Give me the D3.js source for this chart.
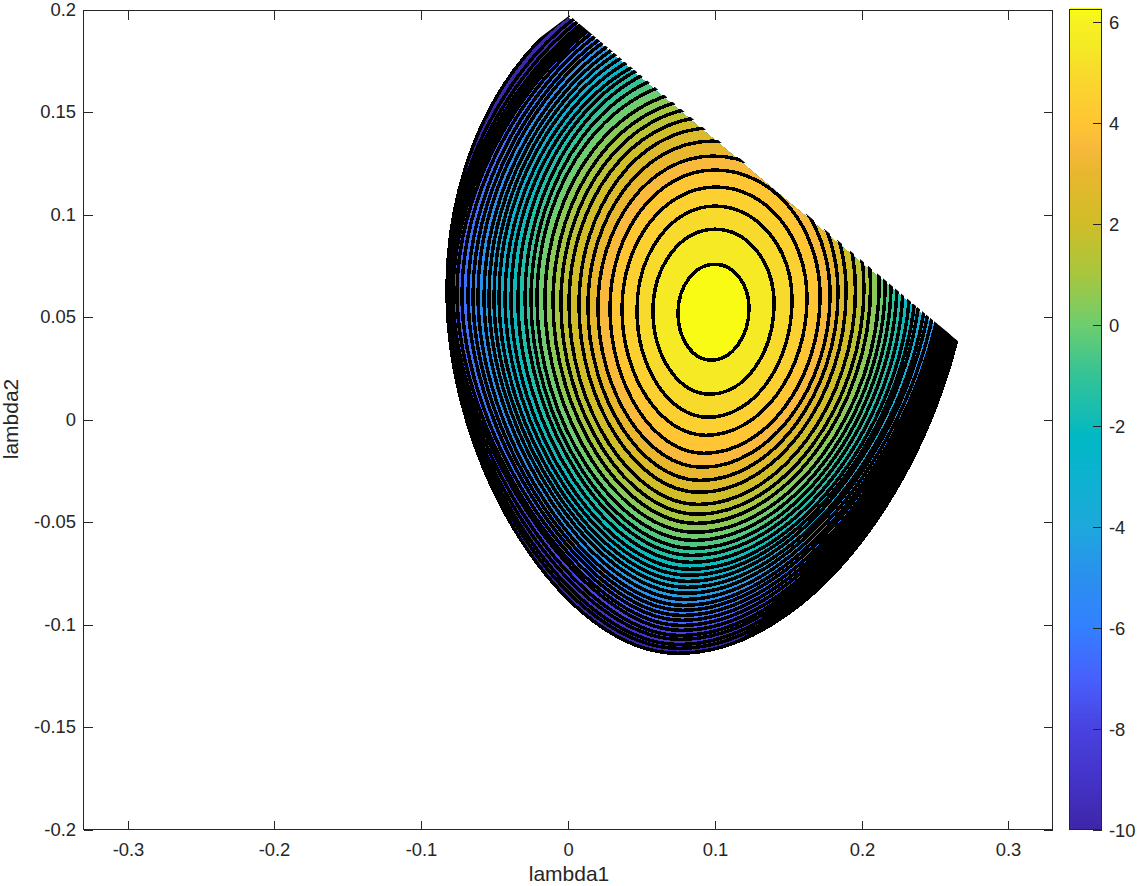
<!DOCTYPE html>
<html><head><meta charset="utf-8">
<script src="https://cdn.jsdelivr.net/npm/d3@7/dist/d3.min.js"></script>
<style>html,body{margin:0;padding:0;background:#fff}svg{display:block}text{font-family:"Liberation Sans",Arial,sans-serif;fill:#262626}</style>
</head><body><svg id="c" width="1138" height="886"></svg>
<script>
const xTicks=[-0.3,-0.2,-0.1,0,0.1,0.2,0.3];
const yTicks=[-0.2,-0.15,-0.1,-0.05,0,0.05,0.1,0.15,0.2];
const barTicks=[-10,-8,-6,-4,-2,0,2,4,6];
const levels=[6,5.5,5,4.5,4,3.5,3,2.5,2,1.5,1,0.5,0,-0.5,-1,-1.5,-2,-2.5,-3,-3.5,-4,-4.5,-5,-5.5,-6,-6.5,-7,-7.5,-8,-8.5,-9,-9.5,-10];
const leftX=[.0749,.0579,.0470,.0368,.0286,.0204,.0136,.0075,.0007,-.0048,-.0102,-.0157,-.0211,-.0252,-.0293,-.0341,-.0388,-.0429,-.0470,-.0504,-.0538,-.0572,-.0613,-.0647,-.0681,-.0722,-.0756,-.0783,-.0797,-.0811,-.0817,-.0821,-.0824];
const leftY=[.0520,.0530,.0535,.0540,.0545,.0549,.0554,.0559,.0564,.0569,.0574,.0579,.0584,.0584,.0589,.0589,.0593,.0593,.0598,.0598,.0603,.0603,.0608,.0608,.0613,.0613,.0618,.0618,.0623,.0623,.0628,.0628,.0632];
const bottomX=[.0974,.0967,.0954,.0940,.0926,.0913,.0899,.0892,.0886,.0879,.0872,.0865,.0858,.0851,.0845,.0838,.0831,.0824,.0817,.0811,.0804,.0797,.0790,.0783,.0777,.0777,.0770,.0770,.0763,.0763,.0756,.0756,.0749];
const bottomY=[.0291,.0125,.0012,-.0076,-.0164,-.0232,-.0296,-.0354,-.0413,-.0461,-.0506,-.0549,-.0589,-.0628,-.0662,-.0696,-.0730,-.0759,-.0789,-.0818,-.0847,-.0877,-.0906,-.0930,-.0955,-.0979,-.1004,-.1028,-.1053,-.1072,-.1097,-.1116,-.1140];
const rightX=[.1233,.1403,.1526,.1628,.1717,.1785,.1839,.1894,.1958,.2016,.2061,.2119,.2160,.2200,.2241,.2282,.2330,.2371,.2405,.2452,.2486,.2527,.2568,.2589,.2616,.2629,.2643,.2657,.2670,.2684,.2691,.2711,.2772];
const rightY=[.0545,.0569,.0584,.0593,.0603,.0608,.0618,.0623,.0632,.0642,.0647,.0657,.0662,.0667,.0672,.0672,.0696,.0720,.0745,.0769,.0794,.0818,.0843,.0867,.0891,.0916,.0940,.0965,.0989,.1013,.1033,.1052,.1072];
const topX=[.1001,.1001,.1001,.1008,.1001,.0988,.0981,.0974,.0967,.0960,.0954,.0947,.0940,.0933,.0926,.0920,.0913,.0906,.0899,.0892,.0886,.0879,.0872,.0865,.0851,.0845,.0838,.0831,.0817,.0804,.0790,.0770,.0749];
const topY=[.0759,.0930,.1043,.1136,.1219,.1287,.1360,.1424,.1477,.1526,.1570,.1614,.1665,.1712,.1756,.1790,.1814,.1849,.1883,.1917,.1946,.1976,.2005,.2029,.2054,.2078,.2098,.2117,.2127,.2137,.2147,.2151,.2156];
const domainEdge=[[-.1144,.1350],[-.0191,.1863],[0,.1966],[.2650,.0374],[.2943,.0198],[.2943,-.137],[-.1144,-.137]];
const mergedBlack=[[.2534,.0422],[.2446,.0227],[.2262,-.0037],[.2125,-.0183],[.1969,-.0408],[.1785,-.0554],[.1696,-.0652],[.1601,-.0750],[.1512,-.0818],[.1396,-.0882],[.1287,-.1014],[.1138,-.1087],[.0899,-.1155],[.0899,-.137],[.2943,-.137],[.2943,.0422]];
const stopValues=[-10,-9,-8,-7,-6,-5,-4,-3,-2.2,-2,-1,0,1,2,3,3.5,4,5,5.5,6,6.24];
const stopColors=["#3e26a8","#4433c8","#4842e0","#4860fc","#3380ff","#2a90ee","#1ea8dc","#0cb2cf","#00b8c4","#0cbabb","#34c396","#6ecd6e","#a8c63e","#d0bd28","#e8b72e","#f8b93c","#ffc533","#f8da2c","#f5ea24","#f6f122","#f9fb15"];
const upperLeftBend=[.47,.47,.475,.49,.515,.5523];

const svg=d3.select("#c");
const x=d3.scaleLinear().domain([-0.33,0.33]).range([83.5,1052.5]);
const y=d3.scaleLinear().domain([-0.2,0.2]).range([829.5,10]);
const bar=d3.scaleLinear().domain([-10,6.24]).range([829.5,9.5]);
const colour=d3.scaleLinear().domain(stopValues).range(stopColors).interpolate(d3.interpolateRgb);
const INK="#262626";

const defs=svg.append("defs");
const poly=d3.line().x(d=>x(d[0])).y(d=>y(d[1]));
defs.append("clipPath").attr("id","dom").append("path").attr("d",poly(domainEdge)+"Z");
defs.append("clipPath").attr("id","domS").append("path").attr("d",poly(domainEdge)+"Z").attr("transform","translate(1.5,-1.5)");

function kappaLR(i){return i<=22?0.5523-(0.5523-0.46)*(i/22):0.46+0.04*((i-22)/10);}
function kappaLL(i){return i<=27?0.5523-(0.5523-0.43)*(i/27):0.43+0.06*((i-27)/5);}
function kappaUL(i){return i<=12?0.5523:i<=27?0.5523-(0.5523-0.47)*((i-12)/15):upperLeftBend[i-27];}
const kappaUR=0.5523;
function contourPath(i){
  const L=[x(leftX[i]),y(leftY[i])],B=[x(bottomX[i]),y(bottomY[i])],R=[x(rightX[i]),y(rightY[i])],T=[x(topX[i]),y(topY[i])];
  const p=d3.path();
  const kl=kappaLL(i),kr=kappaLR(i),ku=kappaUR,kv=kappaUL(i);
  p.moveTo(L[0],L[1]);
  p.bezierCurveTo(L[0],L[1]+(B[1]-L[1])*kl,B[0]-(B[0]-L[0])*kl,B[1],B[0],B[1]);
  p.bezierCurveTo(B[0]+(R[0]-B[0])*kr,B[1],R[0],R[1]+(B[1]-R[1])*kr,R[0],R[1]);
  p.bezierCurveTo(R[0],R[1]-(R[1]-T[1])*ku,T[0]+(R[0]-T[0])*ku,T[1],T[0],T[1]);
  p.bezierCurveTo(T[0]-(T[0]-L[0])*kv,T[1],L[0],L[1]-(L[1]-T[1])*kv,L[0],L[1]);
  p.closePath();
  return p.toString();
}
const order=d3.range(levels.length).reverse();
const fills=svg.append("g").attr("clip-path","url(#dom)").attr("shape-rendering","crispEdges");
fills.selectAll("path").data(order).join("path")
  .attr("d",contourPath)
  .attr("fill",i=>colour(i===0?6.24:levels[i]));
const lines=svg.append("g").attr("clip-path","url(#domS)").attr("shape-rendering","crispEdges");
lines.selectAll("path").data(order).join("path")
  .attr("d",contourPath).attr("fill","none").attr("stroke","#000").attr("stroke-width",3.5);
defs.append("clipPath").attr("id","outerC").append("path").attr("d",contourPath(32));
svg.append("g").attr("clip-path","url(#domS)").attr("shape-rendering","crispEdges").append("path")
  .attr("d",poly(mergedBlack)+"Z").attr("fill","#000").attr("clip-path","url(#outerC)");

// axes frame and mirrored ticks
const ax=svg.append("g").attr("stroke",INK).attr("stroke-width",1).attr("fill","none").attr("shape-rendering","crispEdges");
ax.append("rect").attr("x",83.5).attr("y",10.5).attr("width",969).attr("height",819);
const TL=9, FS=18.4;
xTicks.forEach(v=>{const p=Math.round(x(v))+.5;
  ax.append("line").attr("x1",p).attr("x2",p).attr("y1",829.5).attr("y2",829.5-TL);
  ax.append("line").attr("x1",p).attr("x2",p).attr("y1",10.5).attr("y2",10.5+TL);
  svg.append("text").attr("x",p).attr("y",856).attr("text-anchor","middle").attr("font-size",FS).text(String(v));
});
yTicks.forEach(v=>{const p=Math.round(y(v))+.5;
  ax.append("line").attr("y1",p).attr("y2",p).attr("x1",83.5).attr("x2",83.5+TL);
  ax.append("line").attr("y1",p).attr("y2",p).attr("x1",1052.5).attr("x2",1052.5-TL);
  svg.append("text").attr("x",76).attr("y",p+5.5).attr("text-anchor","end").attr("font-size",FS).text(String(v));
});
svg.append("text").attr("x",569).attr("y",881).attr("text-anchor","middle").attr("font-size",21).text("lambda1");
svg.append("text").attr("transform","translate(18,419) rotate(-90)").attr("text-anchor","middle").attr("font-size",21).text("lambda2");

// colour bar
const cb=svg.append("g").attr("shape-rendering","crispEdges");
cb.selectAll("rect").data(d3.range(-10,6.24,0.02)).join("rect")
  .attr("x",1069.5).attr("width",32).attr("y",d=>bar(d+0.02)).attr("height",d=>bar(d)-bar(d+0.02)+.5).attr("fill",d=>colour(d));
cb.append("rect").attr("x",1069.5).attr("y",9.5).attr("width",32).attr("height",820).attr("fill","none").attr("stroke",INK);
barTicks.forEach(v=>{const p=Math.round(bar(v))+.5;
  cb.append("line").attr("x1",1101.5).attr("x2",1093).attr("y1",p).attr("y2",p).attr("stroke",INK);
  svg.append("text").attr("x",1109).attr("y",p+6).attr("font-size",FS).text(String(v));
});
</script></body></html>
